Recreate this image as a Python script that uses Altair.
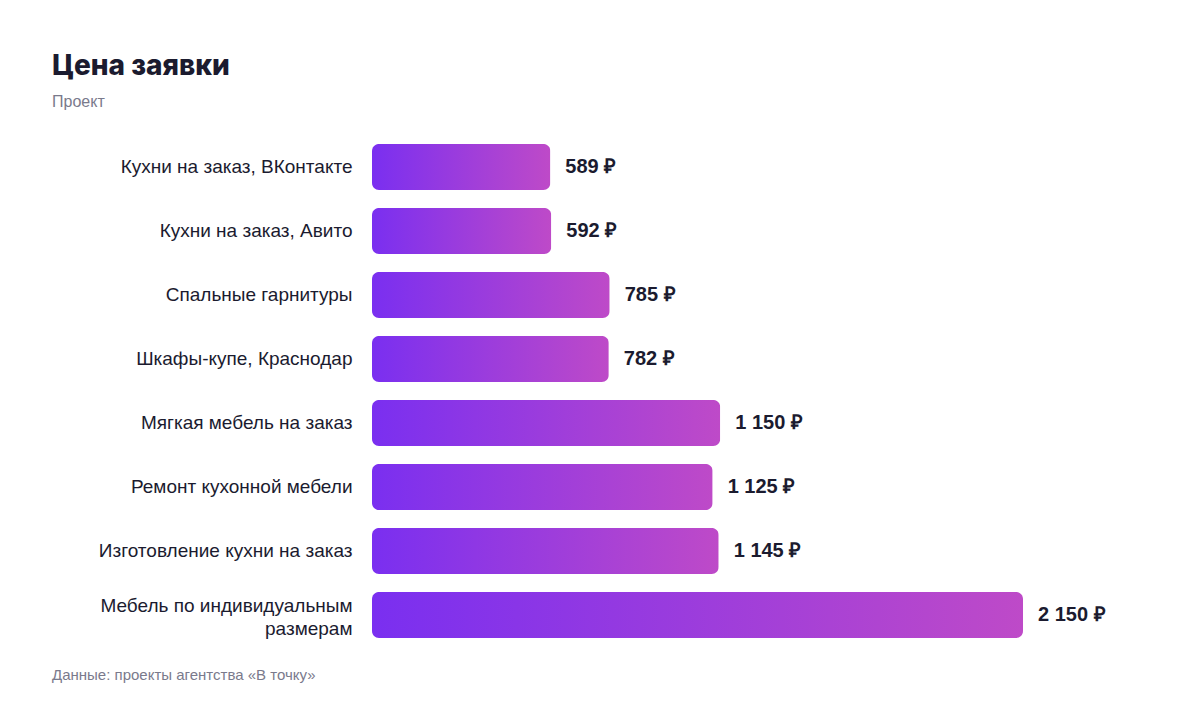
import altair as alt
import pandas as pd

categories = [
    "Кухни на заказ, ВКонтакте",
    "Кухни на заказ, Авито",
    "Спальные гарнитуры",
    "Шкафы-купе, Краснодар",
    "Мягкая мебель на заказ",
    "Ремонт кухонной мебели",
    "Изготовление кухни на заказ",
    "Мебель по индивидуальным|размерам",
]
values = [589, 592, 785, 782, 1150, 1125, 1145, 2150]
currency = "₽"
title_text = "Цена заявки"
subtitle_text = "Проект"
source_text = "Данные: проекты агентства «В точку»"

df = pd.DataFrame({"project": categories, "price": values})
df["label"] = [f"{v:,}".replace(",", " ") + " " + currency for v in values]

DARK = "#1b1b2f"
GRAY = "#7a7a8c"
LABEL_FONT = "Arial"

grad = alt.Gradient(
    gradient="linear",
    stops=[alt.GradientStop(color="#7A2FF0", offset=0),
           alt.GradientStop(color="#BE4AC8", offset=1)],
    x1=0, x2=1, y1=0, y2=0,
)

x_enc = alt.X("price:Q", scale=alt.Scale(domain=[0, 2150], nice=False, zero=True), axis=None)
y_enc = alt.Y(
    "project:N",
    sort=categories,
    scale=alt.Scale(paddingInner=0.28, paddingOuter=0.14),
    axis=alt.Axis(
        title=None, domain=False, ticks=False, grid=False,
        labelPadding=20, labelFontSize=19, labelColor=DARK, labelFont=LABEL_FONT,
        labelExpr="split(datum.label, '|')", labelLineHeight=23, labelLimit=400,
        labelOffset={"condition": {"test": "indexof(datum.value, '|') >= 0", "value": -9}, "value": 0},
    ),
)

base = alt.Chart(df)
bars = base.mark_bar(cornerRadius=7, color=grad).encode(x=x_enc, y=y_enc)
vals = base.mark_text(
    align="left", baseline="middle", dx=15, fontSize=20, fontWeight="bold",
    font=LABEL_FONT, color=DARK,
).encode(x=x_enc, y=y_enc, text="label:N")

title = alt.Chart(pd.DataFrame({"t": [title_text]})).mark_text(
    align="left", baseline="alphabetic", fontSize=28, fontWeight=800,
    font="Inter", color=DARK,
).encode(x=alt.value(-320), y=alt.value(-60), text="t:N")

subtitle = alt.Chart(pd.DataFrame({"t": [subtitle_text]})).mark_text(
    align="left", baseline="alphabetic", fontSize=16, font=LABEL_FONT, color=GRAY,
).encode(x=alt.value(-320), y=alt.value(-28), text="t:N")

footer = alt.Chart(pd.DataFrame({"t": [source_text]})).mark_text(
    align="left", baseline="alphabetic", fontSize=15, font=LABEL_FONT, color=GRAY,
).encode(x=alt.value(-320), y=alt.value(545), text="t:N")

chart = alt.layer(bars, vals, title, subtitle, footer).properties(
    width=651,
    height=512,
    padding={"left": 364, "top": 127, "right": 161, "bottom": 57},
    autosize=alt.AutoSizeParams(type="none"),
    background="white",
).configure_view(stroke=None)

chart.save("out.html", embed_options={"renderer": "svg", "actions": False})
